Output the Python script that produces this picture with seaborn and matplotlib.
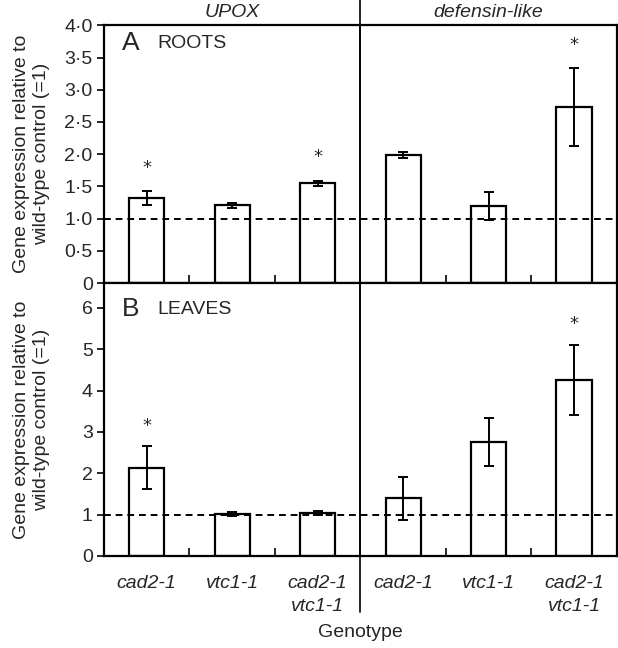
import numpy as np
import pandas as pd
import seaborn as sns
import matplotlib.pyplot as plt
from matplotlib.lines import Line2D
from matplotlib.transforms import blended_transform_factory

sns.set_style("white")
plt.rcParams['font.family'] = ['Liberation Sans', 'DejaVu Sans']

genes = ['UPOX', 'defensin-like']
genotypes = ['cad2-1', 'vtc1-1', 'cad2-1\nvtc1-1']
keys = [g + ' ' + t for g in genes for t in genotypes]

roots_mean = [1.32, 1.21, 1.55, 1.99, 1.20, 2.73]
roots_err = [0.11, 0.04, 0.04, 0.05, 0.22, 0.61]
roots_sig = [True, False, True, False, False, True]

leaves_mean = [2.13, 1.02, 1.03, 1.40, 2.75, 4.26]
leaves_err = [0.52, 0.05, 0.05, 0.52, 0.58, 0.85]
leaves_sig = [True, False, False, False, False, True]

roots_ticks = [0, 0.5, 1.0, 1.5, 2.0, 2.5, 3.0, 3.5, 4.0]
roots_ticklabels = ['0', '0\u00b75', '1\u00b70', '1\u00b75', '2\u00b70', '2\u00b75', '3\u00b70', '3\u00b75', '4\u00b70']
leaves_ticks = [0, 1, 2, 3, 4, 5, 6]
leaves_ticklabels = ['0', '1', '2', '3', '4', '5', '6']

FS = 14

fig = plt.figure(figsize=(6.18, 6.48), dpi=100)
ax1 = fig.add_axes([0.168, 0.563, 0.830, 0.398])
ax2 = fig.add_axes([0.168, 0.142, 0.830, 0.421])

panels = [
    (ax1, roots_mean, roots_err, roots_sig, 'A', 'ROOTS', 0.93, (0, 4.0), roots_ticks, roots_ticklabels, 0.36),
    (ax2, leaves_mean, leaves_err, leaves_sig, 'B', 'LEAVES', 0.905, (0, 6.6), leaves_ticks, leaves_ticklabels, 0.5),
]

for ax, mean, err, sig, letter, tissue, ty, ylim, yt, ytl, star_off in panels:
    df = pd.DataFrame({'key': keys, 'value': mean})
    sns.barplot(data=df, x='key', y='value', order=keys, color='white',
                edgecolor='black', linewidth=1.6, width=0.41, errorbar=None, ax=ax)
    for p in ax.patches:
        p.set_facecolor('white')
    x = np.arange(len(keys))
    ax.errorbar(x, mean, yerr=err, fmt='none', ecolor='black', elinewidth=1.4,
                capsize=3.6, capthick=1.4, zorder=3)
    for xi, m, e, s in zip(x, mean, err, sig):
        if s:
            ax.text(xi, m + e + star_off, '*', ha='center', va='center',
                    fontsize=13, family='DejaVu Sans')
    ax.axhline(1, color='black', lw=1.4, ls=(0, (3.5, 2.5)), zorder=4)
    ax.axvline(2.5, color='black', lw=1.2)
    ax.set_xlim(-0.5, 5.5)
    ax.set_ylim(*ylim)
    ax.set_yticks(yt)
    ax.set_yticklabels(ytl, fontsize=FS)
    ax.set_xticks(x)
    ax.set_xticks([0.5, 1.5, 3.5, 4.5], minor=True)
    ax.tick_params(axis='x', which='major', length=0)
    ax.tick_params(axis='x', which='minor', direction='in', length=6, width=1.4, bottom=True)
    ax.tick_params(axis='y', direction='out', length=5, width=1.4, left=True, pad=3)
    for sp in ax.spines.values():
        sp.set_visible(True)
        sp.set_color('black')
        sp.set_linewidth(1.6)
    ax.set_xlabel('')
    ax.set_ylabel('Gene expression relative to\nwild-type control (=1)', fontsize=FS)
    ax.yaxis.set_label_coords(-0.105, 0.5)
    ax.text(0.035, ty, letter, transform=ax.transAxes, fontsize=19, va='center', ha='left')
    ax.text(0.105, ty, tissue, transform=ax.transAxes, fontsize=FS, va='center', ha='left')

ax1.set_xticklabels([])
ax2.set_xticklabels(genotypes * 2, fontsize=FS, style='italic', va='top', linespacing=1.45)
ax2.tick_params(axis='x', which='major', pad=14)
ax2.set_xlabel('Genotype', fontsize=FS, labelpad=6)

for xi, g in zip([1, 4], genes):
    ax1.text(xi, 1.05, g, transform=blended_transform_factory(ax1.transData, ax1.transAxes),
             ha='center', va='center', fontsize=FS, style='italic')

trans = blended_transform_factory(ax1.transData, fig.transFigure)
fig.add_artist(Line2D([2.5, 2.5], [0.055, 1.0], transform=trans, color='black', lw=1.2))

fig.savefig('out.png', dpi=100)
